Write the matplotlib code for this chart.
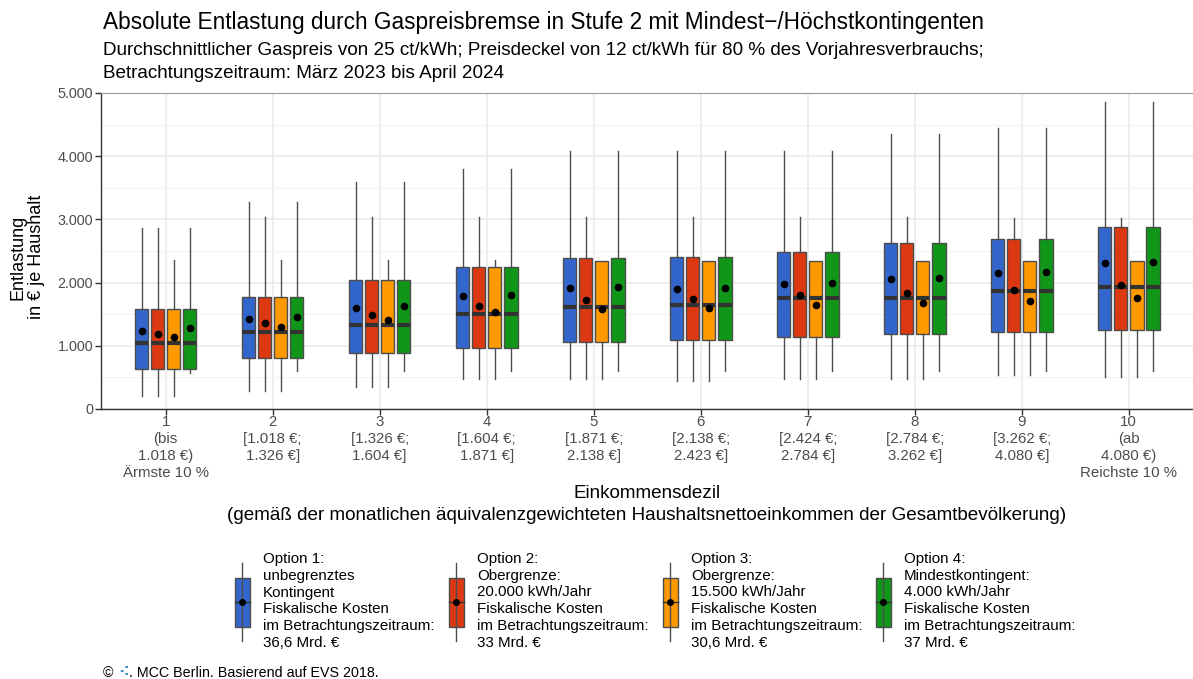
import numpy as np
import matplotlib
matplotlib.use("Agg")
import matplotlib.pyplot as plt
from matplotlib.patches import Rectangle
from matplotlib.lines import Line2D

plt.rcParams['font.family'] = ['Liberation Sans', 'DejaVu Sans']

# ---- data ----
deciles = np.arange(1, 11)
tick_labels = ["1\n(bis\n1.018 €)\nÄrmste 10 %",
               "2\n[1.018 €;\n1.326 €]",
               "3\n[1.326 €;\n1.604 €]",
               "4\n[1.604 €;\n1.871 €]",
               "5\n[1.871 €;\n2.138 €]",
               "6\n[2.138 €;\n2.423 €]",
               "7\n[2.424 €;\n2.784 €]",
               "8\n[2.784 €;\n3.262 €]",
               "9\n[3.262 €;\n4.080 €]",
               "10\n(ab\n4.080 €)\nReichste 10 %"]

q1 = [638, 807, 881, 960, 1065, 1097, 1144, 1187, 1223, 1250]
median = [1040, 1218, 1329, 1508, 1619, 1646, 1752, 1752, 1862, 1935]
q3_full = [1578, 1767, 2041, 2252, 2394, 2410, 2484, 2622, 2695, 2884]
q3_opt3 = [1578, 1767, 2041, 2252, 2346, 2346, 2346, 2346, 2346, 2346]
whislo_full = [206, 285, 343, 470, 479, 438, 479, 479, 543, 511]
whislo_opt4 = [565, 606, 606, 606, 606, 606, 606, 606, 606, 606]
whishi_full = [2869, 3280, 3587, 3797, 4082, 4082, 4082, 4351, 4441, 4853]
whishi_opt2 = [2869, 3033, 3033, 3033, 3033, 3033, 3033, 3033, 3030, 3030]
whishi_opt3 = [2353, 2353, 2355, 2355, 2346, 2346, 2346, 2346, 2346, 2346]

mean_opt1 = [1234, 1419, 1603, 1793, 1915, 1903, 1978, 2062, 2152, 2305]
mean_opt2 = [1182, 1356, 1492, 1635, 1725, 1741, 1799, 1835, 1888, 1962]
mean_opt3 = [1139, 1297, 1403, 1530, 1587, 1603, 1650, 1677, 1714, 1761]
mean_opt4 = [1282, 1460, 1630, 1809, 1926, 1919, 1989, 2078, 2168, 2321]

option_labels = ["Option 1:\nunbegrenztes\nKontingent\nFiskalische Kosten\nim Betrachtungszeitraum:\n36,6 Mrd. €",
                 "Option 2:\nObergrenze:\n20.000 kWh/Jahr\nFiskalische Kosten\nim Betrachtungszeitraum:\n33 Mrd. €",
                 "Option 3:\nObergrenze:\n15.500 kWh/Jahr\nFiskalische Kosten\nim Betrachtungszeitraum:\n30,6 Mrd. €",
                 "Option 4:\nMindestkontingent:\n4.000 kWh/Jahr\nFiskalische Kosten\nim Betrachtungszeitraum:\n37 Mrd. €"]
colors = ['#3366CC', '#DC3912', '#FF9900', '#109618']

options = [
    (whislo_full, q3_full, whishi_full, mean_opt1),
    (whislo_full, q3_full, whishi_opt2, mean_opt2),
    (whislo_full, q3_opt3, whishi_opt3, mean_opt3),
    (whislo_opt4, q3_full, whishi_full, mean_opt4),
]

W, H = 1193, 679
fig = plt.figure(figsize=(W / 100, H / 100), dpi=100)
ax = fig.add_axes([101.5 / W, 1 - 409 / H, (W - 101.5) / W, (409 - 93) / H])

edge = '#4d4d4d'
offsets = [-0.225, -0.075, 0.075, 0.225]
for k, (lo, up, hi, mn) in enumerate(options):
    stats = []
    for i in range(len(deciles)):
        stats.append(dict(whislo=lo[i], q1=q1[i], med=median[i], q3=up[i],
                          whishi=hi[i], mean=mn[i], fliers=[]))
    ax.bxp(stats, positions=deciles + offsets[k], widths=0.125, patch_artist=True,
           showmeans=True, showcaps=False, showfliers=False,
           boxprops=dict(facecolor=colors[k], edgecolor=edge, linewidth=1),
           whiskerprops=dict(color=edge, linewidth=1),
           medianprops=dict(color='#333333', linewidth=3, solid_capstyle='butt'),
           meanprops=dict(marker='o', markerfacecolor='black', markeredgecolor='black',
                          markersize=4.5),
           zorder=3)

ax.set_xlim(0.4, 10.6)
ax.set_ylim(0, 5000)
ax.set_xticks(deciles)
ax.set_xticklabels(tick_labels, fontsize=10.8, color='#4d4d4d', linespacing=1.26)
yt = [0, 1000, 2000, 3000, 4000, 5000]
ax.set_yticks(yt)
ax.set_yticklabels([f"{v:,}".replace(",", ".") for v in yt], fontsize=10.4, color='#4d4d4d')
ax.set_yticks([500, 1500, 2500, 3500, 4500], minor=True)
ax.tick_params(axis='both', which='major', length=4, width=1, color='#333333', pad=2)
ax.tick_params(axis='x', which='major', pad=0.5)
ax.tick_params(axis='y', which='minor', length=0)
ax.grid(True, which='major', color='#ebebeb', linewidth=1.2, zorder=0)
ax.grid(True, which='minor', axis='y', color='#f2f2f2', linewidth=0.8, zorder=0)
ax.set_axisbelow(True)
for s in ['left', 'bottom']:
    ax.spines[s].set_color('#333333')
    ax.spines[s].set_linewidth(1)
ax.spines['top'].set_color('#999999')
ax.spines['right'].set_visible(False)

fig.text(27 / W, 1 - 257 / H, "Entlastung\nin € je Haushalt", rotation=90,
         ha='center', va='center', fontsize=13, linespacing=1.1)
fig.text(647 / W, 1 - 485 / H,
         "Einkommensdezil\n(gemäß der monatlichen äquivalenzgewichteten Haushaltsnettoeinkommen der Gesamtbevölkerung)",
         ha='center', va='top', fontsize=13.6, linespacing=1.4, multialignment='center')

fig.text(103 / W, 1 - 29 / H,
         "Absolute Entlastung durch Gaspreisbremse in Stufe 2 mit Mindest\u2212/Höchstkontingenten",
         fontsize=16.3, va='baseline')
fig.text(103 / W, 1 - 55 / H,
         "Durchschnittlicher Gaspreis von 25 ct/kWh; Preisdeckel von 12 ct/kWh für 80 % des Vorjahresverbrauchs;",
         fontsize=13.6, va='baseline')
fig.text(103 / W, 1 - 78 / H, "Betrachtungszeitraum: März 2023 bis April 2024",
         fontsize=13.6, va='baseline')

# legend drawn in pixel coordinates on an overlay axes
ov = fig.add_axes([0, 0, 1, 1])
ov.set_xlim(0, W)
ov.set_ylim(H, 0)
ov.axis('off')
key_x = [242, 456, 670, 883]
for k in range(4):
    cx = key_x[k]
    ov.add_line(Line2D([cx, cx], [563, 641], color=edge, lw=1))
    ov.add_patch(Rectangle((cx - 7.5, 578), 15, 49, facecolor=colors[k], edgecolor=edge, lw=1))
    ov.add_line(Line2D([cx - 7.5, cx + 7.5], [602, 602], color='#333333', lw=1))
    ov.plot([cx], [602], 'o', color='black', markersize=4)
    ov.text(cx + 21, 552, option_labels[k], fontsize=10.9, va='top', ha='left', linespacing=1.25)

t1 = ov.text(103, 677, "©", fontsize=10.3, va='baseline')
t2 = ov.annotate(" \u2056", xy=(1, 0), xycoords=t1, va='bottom', fontsize=11,
                 color='#3a8fc0', family='DejaVu Sans', weight='bold')
ov.annotate(". MCC Berlin. Basierend auf EVS 2018.", xy=(1, 0), xycoords=t2,
            va='bottom', fontsize=10.3)

fig.savefig("out.png", dpi=100)
